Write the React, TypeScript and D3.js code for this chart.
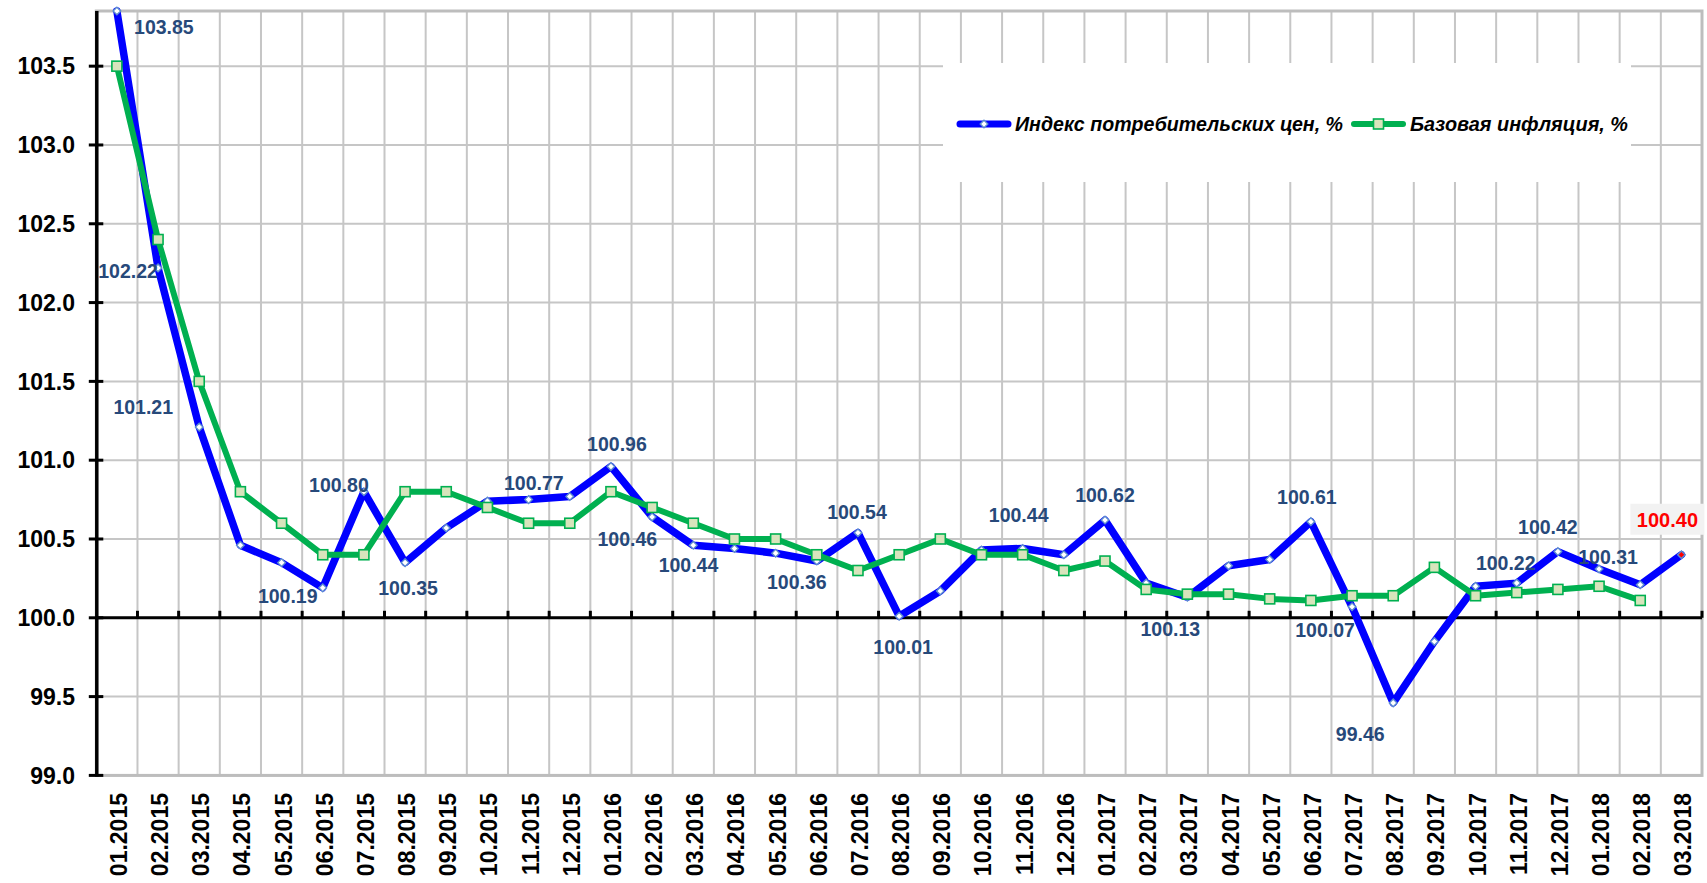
import React from 'react';
import * as d3 from 'd3';

const categories = [
  '01.2015', '02.2015', '03.2015', '04.2015', '05.2015', '06.2015', '07.2015', '08.2015', '09.2015', '10.2015', '11.2015', '12.2015',
  '01.2016', '02.2016', '03.2016', '04.2016', '05.2016', '06.2016', '07.2016', '08.2016', '09.2016', '10.2016', '11.2016', '12.2016',
  '01.2017', '02.2017', '03.2017', '04.2017', '05.2017', '06.2017', '07.2017', '08.2017', '09.2017', '10.2017', '11.2017', '12.2017',
  '01.2018', '02.2018', '03.2018',
];

const cpi = [
  103.85, 102.22, 101.21, 100.46, 100.35, 100.19, 100.80, 100.35, 100.57, 100.74, 100.75, 100.77,
  100.96, 100.64, 100.46, 100.44, 100.41, 100.36, 100.54, 100.01, 100.17, 100.43, 100.44, 100.40,
  100.62, 100.22, 100.13, 100.33, 100.37, 100.61, 100.07, 99.46, 99.85, 100.20, 100.22, 100.42,
  100.31, 100.21, 100.40,
];

const core: (number | null)[] = [
  103.5, 102.4, 101.5, 100.8, 100.6, 100.4, 100.4, 100.8, 100.8, 100.7, 100.6, 100.6,
  100.8, 100.7, 100.6, 100.5, 100.5, 100.4, 100.3, 100.4, 100.5, 100.4, 100.4, 100.3,
  100.36, 100.18, 100.15, 100.15, 100.12, 100.11, 100.14, 100.14, 100.32, 100.14, 100.16, 100.18,
  100.2, 100.11, null,
];

const yTicks = [99.0, 99.5, 100.0, 100.5, 101.0, 101.5, 102.0, 102.5, 103.0, 103.5];

const cpiName = 'Индекс потребительских цен, %';
const coreName = 'Базовая инфляция, %';

// layout of the CPI data labels: [point index, dx, dy] (offset of text centre from the point)
const cpiLabelLayout: [number, number, number][] = [
  [0, 47, 16], [1, -30, 3], [2, -56, -20], [5, -35, 8], [6, -25, -7], [7, 3, 25],
  [11, -36, -13], [12, 6, -22], [14, -66, -6], [15, -46, 17], [17, -20, 21], [18, -1, -21],
  [19, 4, 31], [22, -4, -33], [24, 0, -25], [26, -17, 32], [29, -4, -25], [30, -27, 23],
  [31, -33, 31], [34, -11, -20], [35, -10, -25], [36, 9, -12],
];
const lastLabelOffset = [-14, -35];

const FONT = 'Arial, "Liberation Sans", sans-serif';

export default function App() {
  const W = 1707, H = 883;
  const left = 96.3, right = 1702, top = 11, bottom = 775.4;

  const x = d3.scaleBand<string>().domain(categories).range([left, right]).padding(0);
  const bw = x.bandwidth();
  const cx = (i: number) => (x(categories[i]) as number) + bw / 2;
  const y = d3.scaleLinear().domain([99, 103.85]).range([bottom, top]);

  const line = d3.line<number | null>()
    .defined((d) => d != null)
    .x((_, i) => cx(i))
    .y((d) => y(d as number));

  const gridColor = '#c6c6c6';
  const blue = '#0000ff';
  const green = '#00b050';
  const labelColor = '#27497a';

  const diamond = (px: number, py: number, r: number, fill: string, key: string) => (
    <path key={key} d={`M${px},${py - r}L${px + r},${py}L${px},${py + r}L${px - r},${py}Z`}
      fill={fill} stroke="#5b8bd0" strokeWidth={1.4} />
  );
  const square = (px: number, py: number, s: number, key: string) => (
    <rect key={key} x={px - s / 2} y={py - s / 2} width={s} height={s} fill="#d8e4bc" stroke={green} strokeWidth={1.6} />
  );

  const y0 = y(100);
  const lastIdx = cpi.length - 1;

  return (
    <svg width={W} height={H} style={{ position: 'absolute', left: 0, top: 0, background: '#fff' }} fontFamily={FONT}>
      <rect x={0} y={0} width={W} height={H} fill="#fff" />
      {/* horizontal gridlines */}
      {yTicks.map((t) => (
        <line key={'hg' + t} x1={left} x2={right} y1={y(t)} y2={y(t)} stroke={gridColor} strokeWidth={2} />
      ))}
      {/* vertical gridlines at category boundaries */}
      {categories.slice(1).map((c) => (
        <line key={'vg' + c} x1={x(c) as number} x2={x(c) as number} y1={top} y2={bottom} stroke={gridColor} strokeWidth={2} />
      ))}
      {/* plot border */}
      <rect x={left} y={top} width={right - left} height={bottom - top} fill="none" stroke="#bdbdbd" strokeWidth={3} />

      {/* legend box */}
      <rect x={943} y={63} width={688} height={119} fill="#fff" />

      {/* axes */}
      <line x1={left} x2={right} y1={y0} y2={y0} stroke="#000" strokeWidth={3} />
      {categories.map((c, i) => {
        const bx = (x(c) as number) + bw;
        return <line key={'xt' + i} x1={bx} x2={bx} y1={y0 - 7} y2={y0} stroke="#000" strokeWidth={3} />;
      })}
      <line x1={left + 0.5} x2={left + 0.5} y1={top} y2={bottom + 1} stroke="#000" strokeWidth={3.5} />
      {yTicks.map((t) => (
        <line key={'yt' + t} x1={left - 7.5} x2={left + 7} y1={y(t)} y2={y(t)} stroke="#000" strokeWidth={3} />
      ))}
      {yTicks.map((t) => (
        <text key={'yl' + t} x={75} y={y(t) + 8.2} textAnchor="end" fontSize={23} fontWeight="bold" fill="#000">
          {t.toFixed(1)}
        </text>
      ))}
      {categories.map((c, i) => (
        <text key={'xl' + i} transform={`translate(${cx(i) + 10},793) rotate(-90)`} textAnchor="end"
          fontSize={23} fontWeight="bold" fill="#000">{c}</text>
      ))}

      {/* CPI series */}
      <path d={line(cpi) as string} fill="none" stroke={blue} strokeWidth={7.5} strokeLinejoin="round" strokeLinecap="round" />
      {cpi.map((v, i) => diamond(cx(i), y(v), 3.8, i === lastIdx ? '#ff0000' : '#fff', 'cm' + i))}

      {/* core inflation series */}
      <path d={line(core) as string} fill="none" stroke={green} strokeWidth={6} strokeLinejoin="round" strokeLinecap="round" />
      {core.map((v, i) => (v == null ? null : square(cx(i), y(v), 10, 'gm' + i)))}

      {/* data labels */}
      {cpiLabelLayout.map(([i, dx, dy]) => (
        <text key={'dl' + i} x={cx(i) + dx} y={y(cpi[i]) + dy + 7} textAnchor="middle" fontSize={19.5}
          fontWeight="bold" fill={labelColor}>{cpi[i].toFixed(2)}</text>
      ))}
      <g>
        <rect x={cx(lastIdx) + lastLabelOffset[0] - 37} y={y(cpi[lastIdx]) + lastLabelOffset[1] - 16}
          width={74} height={31} fill="#f2f2f2" />
        <text x={cx(lastIdx) + lastLabelOffset[0]} y={y(cpi[lastIdx]) + lastLabelOffset[1] + 7} textAnchor="middle"
          fontSize={20} fontWeight="bold" fill="#ff0000">{cpi[lastIdx].toFixed(2)}</text>
      </g>

      {/* legend */}
      <line x1={960} x2={1008} y1={124} y2={124} stroke={blue} strokeWidth={7} strokeLinecap="round" />
      {diamond(984, 124, 3.8, '#fff', 'lgd1')}
      <text x={1015} y={130.5} fontSize={20} fontWeight="bold" fontStyle="italic" fill="#000"
        textLength={328} lengthAdjust="spacingAndGlyphs">{cpiName}</text>
      <line x1={1354} x2={1403} y1={124} y2={124} stroke={green} strokeWidth={6} strokeLinecap="round" />
      {square(1378.5, 124, 10, 'lgd2')}
      <text x={1410} y={130.5} fontSize={20} fontWeight="bold" fontStyle="italic" fill="#000"
        textLength={218} lengthAdjust="spacingAndGlyphs">{coreName}</text>
    </svg>
  );
}
